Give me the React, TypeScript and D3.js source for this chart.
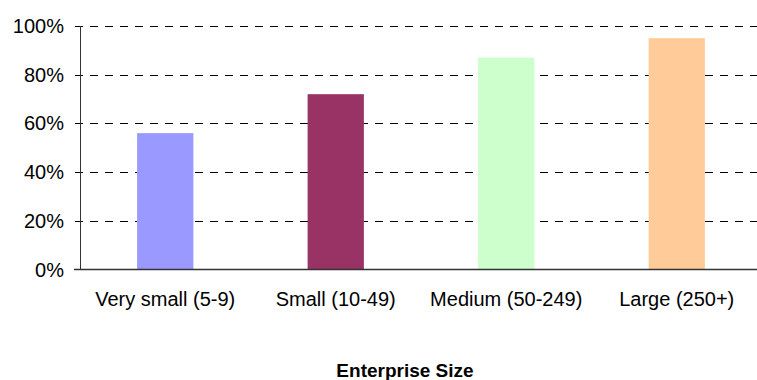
import React, { useEffect, useRef } from 'react';
import * as d3 from 'd3';

const categories = ['Very small (5-9)', 'Small (10-49)', 'Medium (50-249)', 'Large (250+)'];
const values = [0.56, 0.72, 0.87, 0.95];
const barColors = ['#9999FF', '#993366', '#CCFFCC', '#FFCC99'];
const yTicks = [0, 0.2, 0.4, 0.6, 0.8, 1.0];
const xTitle = 'Enterprise Size';

const FONT = '"Liberation Sans", Arial, sans-serif';

const App: React.FC = () => {
  const ref = useRef<SVGSVGElement | null>(null);

  useEffect(() => {
    document.body.style.margin = '0';
    if (!ref.current) return;
    const svg = d3.select(ref.current);
    svg.selectAll('*').remove();

    const left = 80;
    const right = 762; // plot runs past the window edge, as in the original
    const top = 26;
    const bottom = 269.5;

    const x = d3.scaleBand<string>()
      .domain(categories)
      .range([left, right])
      .paddingInner(0.67)
      .paddingOuter(0.335);

    const y = d3.scaleLinear().domain([0, 1]).range([bottom, top]);

    // dashed gridlines (with the 5px tick stub on the left)
    svg.append('g')
      .selectAll('line')
      .data(yTicks.filter(t => t > 0))
      .enter()
      .append('line')
      .attr('x1', left - 5)
      .attr('x2', 757)
      .attr('y1', d => Math.round(y(d)) + 0.5)
      .attr('y2', d => Math.round(y(d)) + 0.5)
      .attr('stroke', '#000')
      .attr('stroke-width', 1)
      .attr('stroke-dasharray', '8,7');

    // bars
    svg.append('g')
      .selectAll('rect')
      .data(values)
      .enter()
      .append('rect')
      .attr('x', (_, i) => x(categories[i]) as number)
      .attr('width', x.bandwidth())
      .attr('y', d => y(d))
      .attr('height', d => bottom - y(d))
      .attr('fill', (_, i) => barColors[i]);

    // y axis line
    svg.append('line')
      .attr('x1', left + 0.5).attr('x2', left + 0.5)
      .attr('y1', top).attr('y2', bottom)
      .attr('stroke', '#333');

    // x axis line
    svg.append('line')
      .attr('x1', left - 6).attr('x2', 757)
      .attr('y1', bottom).attr('y2', bottom)
      .attr('stroke', '#333')
      .attr('stroke-width', 1.3);

    // y tick labels
    svg.append('g')
      .selectAll('text')
      .data(yTicks)
      .enter()
      .append('text')
      .attr('x', 64)
      .attr('y', d => y(d))
      .attr('dy', '0.35em')
      .attr('text-anchor', 'end')
      .style('font-family', FONT)
      .style('font-size', '20px')
      .attr('fill', '#000')
      .text(d => d3.format('.0%')(d));

    // category labels
    svg.append('g')
      .selectAll('text')
      .data(categories)
      .enter()
      .append('text')
      .attr('x', d => (x(d) as number) + x.bandwidth() / 2)
      .attr('y', 306)
      .attr('text-anchor', 'middle')
      .style('font-family', FONT)
      .style('font-size', '20px')
      .attr('fill', '#000')
      .text(d => d);

    // axis title
    svg.append('text')
      .attr('x', 405)
      .attr('y', 377)
      .attr('text-anchor', 'middle')
      .style('font-family', FONT)
      .style('font-size', '19px')
      .style('font-weight', 'bold')
      .attr('fill', '#000')
      .text(xTitle);
  }, []);

  return (
    <svg ref={ref} width={757} height={380} style={{ display: 'block', background: '#fff' }} />
  );
};

export default App;
